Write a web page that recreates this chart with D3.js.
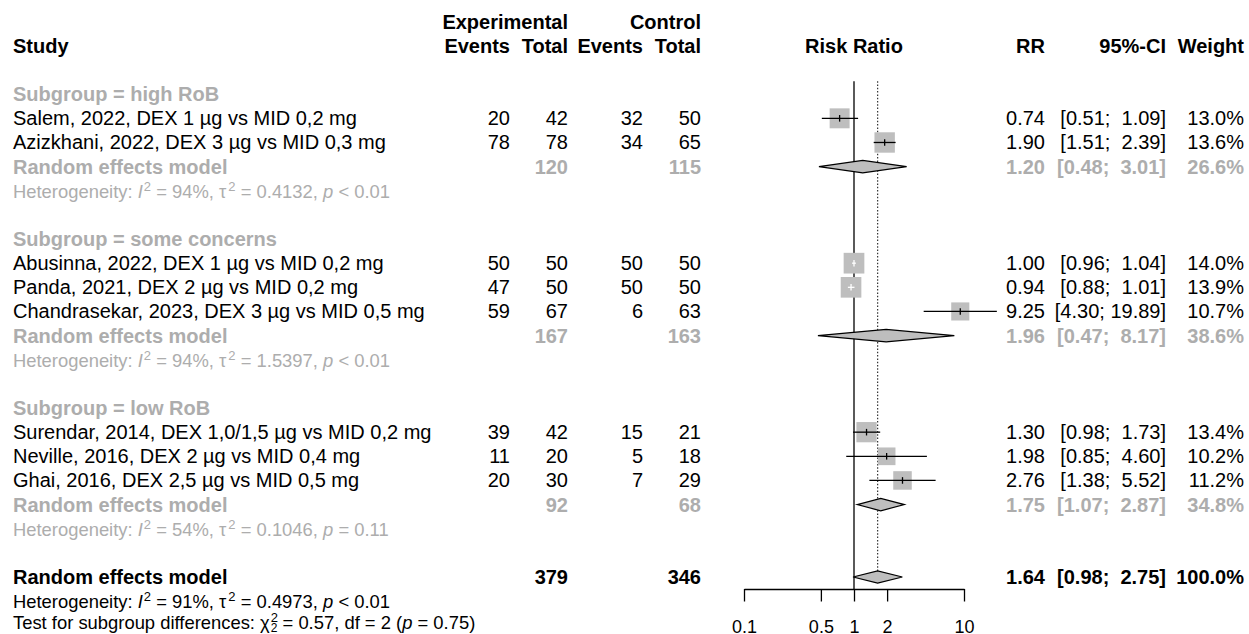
<!DOCTYPE html>
<html>
<head>
<meta charset="utf-8">
<script src="https://cdn.jsdelivr.net/npm/d3@7"></script>
<style>
  html, body { margin: 0; padding: 0; background: #fff; }
  svg text { font-family: "Liberation Sans", Arial, Helvetica, sans-serif; white-space: pre; }
</style>
</head>
<body>
<div id="chart"></div>
<script>
// ---- data: single studies ----
const studies = [
  "Salem, 2022, DEX 1 µg vs MID 0,2 mg",
  "Azizkhani, 2022, DEX 3 µg vs MID 0,3 mg",
  "Abusinna, 2022, DEX 1 µg vs MID 0,2 mg",
  "Panda, 2021, DEX 2 µg vs MID 0,2 mg",
  "Chandrasekar, 2023, DEX 3 µg vs MID 0,5 mg",
  "Surendar, 2014, DEX 1,0/1,5 µg vs MID 0,2 mg",
  "Neville, 2016, DEX 2 µg vs MID 0,4 mg",
  "Ghai, 2016, DEX 2,5 µg vs MID 0,5 mg"
];
const subgroupOf = [0, 0, 1, 1, 1, 2, 2, 2];
const expEvents  = [20, 78, 50, 47, 59, 39, 11, 20];
const expTotal   = [42, 78, 50, 50, 67, 42, 20, 30];
const ctrlEvents = [32, 34, 50, 50, 6, 15, 5, 7];
const ctrlTotal  = [50, 65, 50, 50, 63, 21, 18, 29];
const rr     = [0.74, 1.90, 1.00, 0.94, 9.25, 1.30, 1.98, 2.76];
const ciLow  = [0.51, 1.51, 0.96, 0.88, 4.30, 0.98, 0.85, 1.38];
const ciHigh = [1.09, 2.39, 1.04, 1.01, 19.89, 1.73, 4.60, 5.52];
const weights = [13.0, 13.6, 14.0, 13.9, 10.7, 13.4, 10.2, 11.2];

// ---- data: subgroups ----
const subgroups    = ["high RoB", "some concerns", "low RoB"];
const subExpTotal  = [120, 167, 92];
const subCtrlTotal = [115, 163, 68];
const subRR     = [1.20, 1.96, 1.75];
const subLow    = [0.48, 0.47, 1.07];
const subHigh   = [3.01, 8.17, 2.87];
const subWeight = [26.6, 38.6, 34.8];
const subI2   = ["94%", "94%", "54%"];
const subTau2 = ["0.4132", "1.5397", "0.1046"];
const subP    = ["< 0.01", "< 0.01", "= 0.11"];

// ---- data: overall ----
const totExpTotal = 379, totCtrlTotal = 346;
const totRR = 1.64, totLow = 0.98, totHigh = 2.75, totWeight = 100.0;
const totI2 = "91%", totTau2 = "0.4973", totP = "< 0.01";
const testChi2 = "0.57", testDf = "2", testP = "= 0.75";

const axisTicks = [0.1, 0.5, 1, 2, 10];

// ---- layout ----
const width = 1249, height = 634;
const grey = "#adadad", boxFill = "#bebebe";
const fs = 20, fsHet = 18.4;

const svg = d3.select("#chart").append("svg")
  .attr("width", width).attr("height", height);

const x = d3.scaleLog().domain([0.1, 10]).range([744, 964]);
const yMid = d3.scaleLinear().domain([0, 20]).range([94.2, 577]);   // mark centres per row
const yTxt = r => yMid(r) + 7;                                       // text baseline per row
const boxSize = d3.scaleSqrt().domain([0, 14.0]).range([0, 20.7]);

// columns (right edges)
const col = { study: 13, eEv: 510, eTot: 568, cEv: 643, cTot: 701, rr: 1045, ci: 1166, w: 1244 };

const fmtCI = (lo, hi) => "[" + lo.toFixed(2) + "; " + hi.toFixed(2).padStart(5) + "]";

function txt(xp, row, s, opt) {
  opt = opt || {};
  return svg.append("text")
    .attr("x", xp).attr("y", yTxt(row))
    .attr("text-anchor", opt.anchor || "end")
    .attr("xml:space", "preserve")
    .style("font-size", (opt.size || fs) + "px")
    .style("font-weight", opt.bold ? "bold" : "normal")
    .style("fill", opt.color || "#000")
    .text(s);
}

function hetLine(row, i2, tau2, p, color) {
  const t = svg.append("text")
    .attr("x", col.study).attr("y", yTxt(row))
    .style("font-size", fsHet + "px").style("fill", color);
  t.append("tspan").text("Heterogeneity: ");
  t.append("tspan").style("font-style", "italic").text("I");
  t.append("tspan").attr("dx", 1).attr("dy", -7).style("font-size", "13px").text("2");
  t.append("tspan").attr("dy", 7).text(" = " + i2 + ", τ");
  t.append("tspan").attr("dx", 2).attr("dy", -7).style("font-size", "13px").text("2");
  t.append("tspan").attr("dy", 7).text(" = " + tau2 + ", ");
  t.append("tspan").style("font-style", "italic").text("p");
  t.append("tspan").text(" " + p);
}

// ---- header ----
txt(col.eTot, -3, "Experimental", { bold: true });
txt(col.cTot, -3, "Control", { bold: true });
txt(col.study, -2, "Study", { bold: true, anchor: "start" });
txt(col.eEv, -2, "Events", { bold: true });
txt(col.eTot, -2, "Total", { bold: true });
txt(col.cEv, -2, "Events", { bold: true });
txt(col.cTot, -2, "Total", { bold: true });
txt(x(1), -2, "Risk Ratio", { bold: true, anchor: "middle" });
txt(col.rr, -2, "RR", { bold: true });
txt(col.ci, -2, "95%-CI", { bold: true });
txt(col.w, -2, "Weight", { bold: true });

// ---- row assignment ----
const studyRow = [], subRow = [];
let row = 0;
subgroups.forEach((g, gi) => {
  const head = row;
  row++;
  studies.forEach((s, i) => { if (subgroupOf[i] === gi) studyRow[i] = row++; });
  subRow.push({ head: head, pooled: row, het: row + 1 });
  row += 3;
});
const totRow = row;   // overall row, after the blank line

// ---- reference lines ----
const lineTop = yMid(0) - 13;
const axisY = yMid(totRow) + 12;
svg.append("line")
  .attr("x1", x(1)).attr("x2", x(1))
  .attr("y1", lineTop).attr("y2", axisY)
  .attr("stroke", "#000").attr("stroke-width", 1.3);
svg.append("line")
  .attr("x1", x(totRR)).attr("x2", x(totRR))
  .attr("y1", lineTop).attr("y2", yMid(totRow))
  .attr("stroke", "#333").attr("stroke-width", 1.2)
  .attr("stroke-dasharray", "1.5,1.8");

// ---- subgroup blocks ----
subgroups.forEach((g, gi) => {
  const r = subRow[gi];
  txt(col.study, r.head, "Subgroup = " + g, { bold: true, anchor: "start", color: grey });
  txt(col.study, r.pooled, "Random effects model", { bold: true, anchor: "start", color: grey });
  txt(col.eTot, r.pooled, String(subExpTotal[gi]), { bold: true, color: grey });
  txt(col.cTot, r.pooled, String(subCtrlTotal[gi]), { bold: true, color: grey });
  txt(col.rr, r.pooled, subRR[gi].toFixed(2), { bold: true, color: grey });
  txt(col.ci, r.pooled, fmtCI(subLow[gi], subHigh[gi]), { bold: true, color: grey });
  txt(col.w, r.pooled, subWeight[gi].toFixed(1) + "%", { bold: true, color: grey });
  hetLine(r.het, subI2[gi], subTau2[gi], subP[gi], grey);
});

// ---- study rows ----
studies.forEach((s, i) => {
  const r = studyRow[i];
  txt(col.study, r, s, { anchor: "start" });
  txt(col.eEv, r, String(expEvents[i]));
  txt(col.eTot, r, String(expTotal[i]));
  txt(col.cEv, r, String(ctrlEvents[i]));
  txt(col.cTot, r, String(ctrlTotal[i]));
  txt(col.rr, r, rr[i].toFixed(2));
  txt(col.ci, r, fmtCI(ciLow[i], ciHigh[i]));
  txt(col.w, r, weights[i].toFixed(1) + "%");
});

// squares + CIs
const marks = svg.append("g");
studies.forEach((s, i) => {
  const cx = x(rr[i]), cy = yMid(studyRow[i]), b = boxSize(weights[i]);
  const inside = x(ciLow[i]) >= cx - b / 2 && x(ciHigh[i]) <= cx + b / 2;
  const lc = inside ? "#fff" : "#000";
  marks.append("rect")
    .attr("x", cx - b / 2).attr("y", cy - b / 2)
    .attr("width", b).attr("height", b)
    .attr("fill", boxFill);
  marks.append("line")
    .attr("x1", x(ciLow[i])).attr("x2", x(ciHigh[i]))
    .attr("y1", cy).attr("y2", cy)
    .attr("stroke", lc).attr("stroke-width", 1.3);
  marks.append("line")
    .attr("x1", cx).attr("x2", cx)
    .attr("y1", cy - 3.3).attr("y2", cy + 3.3)
    .attr("stroke", lc).attr("stroke-width", 1.3);
});

function diamond(est, lo, hi, cy) {
  const h = 6.2;
  marks.append("path")
    .attr("d", `M${x(lo)},${cy}L${x(est)},${cy - h}L${x(hi)},${cy}L${x(est)},${cy + h}Z`)
    .attr("fill", boxFill).attr("stroke", "#000").attr("stroke-width", 1.2);
}
subgroups.forEach((g, gi) => diamond(subRR[gi], subLow[gi], subHigh[gi], yMid(subRow[gi].pooled)));
diamond(totRR, totLow, totHigh, yMid(totRow));

// ---- overall ----
txt(col.study, totRow, "Random effects model", { bold: true, anchor: "start" });
txt(col.eTot, totRow, String(totExpTotal), { bold: true });
txt(col.cTot, totRow, String(totCtrlTotal), { bold: true });
txt(col.rr, totRow, totRR.toFixed(2), { bold: true });
txt(col.ci, totRow, fmtCI(totLow, totHigh), { bold: true });
txt(col.w, totRow, totWeight.toFixed(1) + "%", { bold: true });
hetLine(totRow + 1, totI2, totTau2, totP, "#000");

const test = svg.append("text")
  .attr("x", col.study).attr("y", yTxt(totRow + 2) - 3)
  .style("font-size", fsHet + "px").style("fill", "#000");
test.append("tspan").text("Test for subgroup differences: χ");
test.append("tspan").attr("dx", 1).attr("dy", -7).style("font-size", "13px").text("2");
test.append("tspan").attr("dx", -7.2).attr("dy", 10).style("font-size", "12px").text("2");
test.append("tspan").attr("dy", -3).text(" = " + testChi2 + ", df = " + testDf + " (");
test.append("tspan").style("font-style", "italic").text("p");
test.append("tspan").text(" " + testP + ")");

// ---- axis ----
const axis = d3.axisBottom(x)
  .tickValues(axisTicks)
  .tickFormat(d => String(d))
  .tickSize(12.5).tickSizeOuter(0).tickPadding(19);
const ag = svg.append("g").attr("transform", `translate(0,${axisY})`).call(axis);
ag.selectAll("path, line").attr("stroke", "#000").attr("stroke-width", 1.3);
ag.selectAll("text")
  .style("font-family", '"Liberation Sans", Arial, sans-serif')
  .style("font-size", "18px").attr("fill", "#000");
</script>
</body>
</html>
